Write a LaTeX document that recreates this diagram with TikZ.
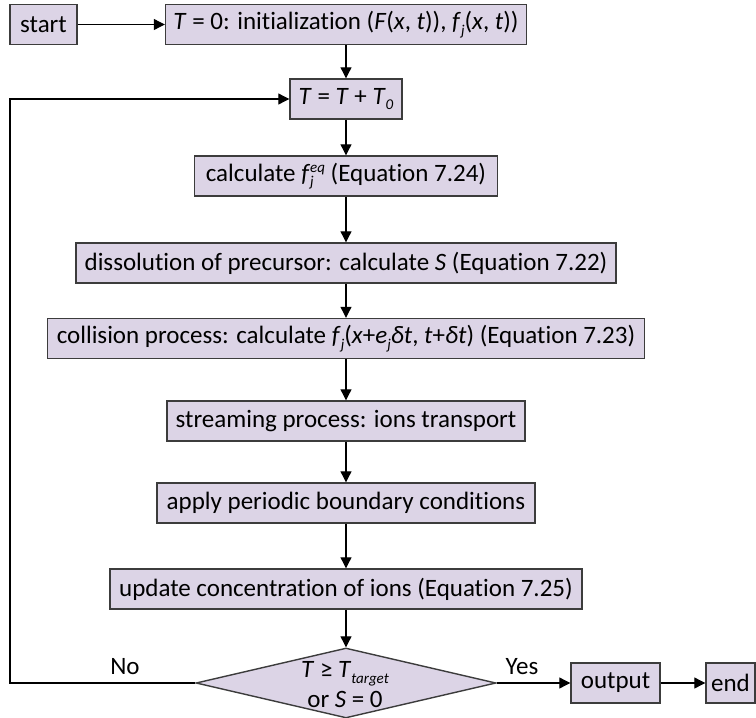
\documentclass[tikz,border=0pt]{standalone}
\usepackage{fontspec}
\setmainfont[Ligatures=NoCommon]{Carlito}
\usetikzlibrary{arrows.meta,shapes.geometric}
\definecolor{boxfill}{RGB}{220,212,230}
\definecolor{boxline}{RGB}{60,60,60}
\newcommand{\mysub}[1]{\raisebox{-0.45ex}{\fontsize{15}{15}\selectfont\itshape #1}}
\newcommand{\mysup}[1]{\raisebox{0.75ex}{\fontsize{15}{15}\selectfont\itshape #1}}
\begin{document}
\begin{tikzpicture}[x=1pt,y=-1pt,
  box/.style={draw=boxline, fill=boxfill, line width=1.4pt, inner sep=0pt, minimum height=40, font=\fontsize{25}{30}\selectfont},
  link/.style={line width=1.1pt, -{Triangle[length=11pt,width=11pt]}},
  lbl/.style={font=\fontsize{25}{30}\selectfont}]
\useasboundingbox (0,0) rectangle (756,718);
\node[box, minimum width=67] (start) at (43.5,24.5) {start};
\node[box, minimum width=361] (init) at (346,24.5) {\textit{T} = 0: initialization (\textit{F}(\textit{x}, \textit{t})), \textit{f}\mysub{j}(\textit{x}, \textit{t}))};
\node[box, minimum width=112] (tt) at (346,99) {\textit{T} = \textit{T} + \textit{T}\mysub{0}};
\node[box, minimum width=303] (feq) at (346,176) {calculate \textit{f}\makebox[0pt][l]{\mysub{j}}\mysup{eq} (Equation 7.24)};
\node[box, minimum width=540] (diss) at (346,263) {dissolution of precursor: calculate \textit{S} (Equation 7.22)};
\node[box, minimum width=597] (coll) at (346,338.5) {collision process: calculate \textit{f}\mysub{j}(\textit{x}+\textit{e}\mysub{j}\textit{δt}, \textit{t}+\textit{δt}) (Equation 7.23)};
\node[box, minimum width=358] (stream) at (346,421) {streaming process: ions transport};
\node[box, minimum width=378] (apply) at (346,503) {apply periodic boundary conditions};
\node[box, minimum width=472] (update) at (346,589) {update concentration of ions (Equation 7.25)};
\node[box, diamond, aspect=4.3, minimum width=300, minimum height=70] (dec) at (346,683) {};
\node[lbl, align=center, inner sep=0pt] (dectext) at (345,685) {\textit{T} ≥ \textit{T}\mysub{target}\\or \textit{S} = 0};
\node[box, minimum width=89] (out) at (615.5,683) {output};
\node[box, minimum width=49] (end) at (730.5,683) {end};
\coordinate (lc) at (10,683);
\draw[link] (start) -- (init);
\draw[link] (init) -- (tt);
\draw[link] (tt) -- (feq);
\draw[link] (feq) -- (diss);
\draw[link] (diss) -- (coll);
\draw[link] (coll) -- (stream);
\draw[link] (stream) -- (apply);
\draw[link] (apply) -- (update);
\draw[link] (update) -- (dec);
\draw[link] (dec) -- (out);
\draw[link] (out) -- (end);
\draw[link] (dec.west) -- (lc) |- (tt.west);
\node[lbl] (no) at (125,667) {No};
\node[lbl] (yes) at (522,667) {Yes};
\end{tikzpicture}
\end{document}
